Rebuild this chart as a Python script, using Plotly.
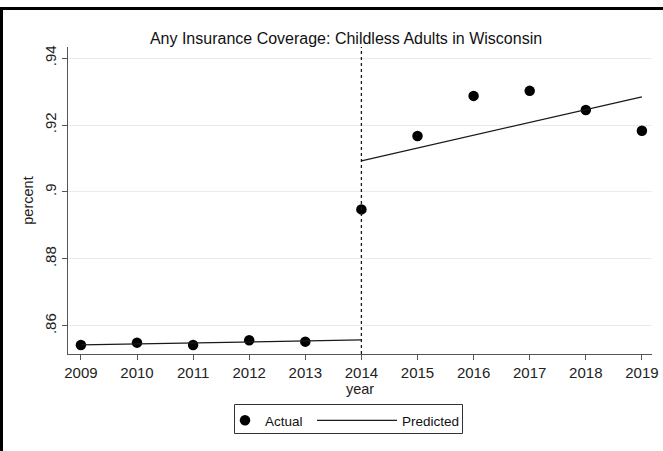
import plotly.graph_objects as go

# Survey years and the share of childless adults with any insurance coverage
years = [2009, 2010, 2011, 2012, 2013, 2014, 2015, 2016, 2017, 2018, 2019]
actual = [0.8543, 0.8550, 0.8543, 0.8557, 0.8553, 0.8948, 0.9167, 0.9287, 0.9302, 0.9245, 0.9183]

# Fitted trend before and after the 2014 policy change (segment endpoints)
pre_years = [2009, 2014]
pre_pred = [0.8543, 0.8558]
post_years = [2014, 2019]
post_pred = [0.9093, 0.9284]

cutoff_year = 2014

y_ticks = [0.86, 0.88, 0.90, 0.92, 0.94]
y_tick_text = [".86", ".88", ".9", ".92", ".94"]

FONT = "Liberation Sans, Arial, Helvetica, sans-serif"

# plot-area geometry in pixels (used for placing paper-referenced items)
W, H = 663, 451
L, R, T, B = 68, 652, 47, 354
pw, ph = R - L, B - T


def px_x(px):
    return (px - L) / pw


def px_y(py):
    return (B - py) / ph


fig = go.Figure()

fig.add_trace(go.Scatter(
    x=years, y=actual, mode="markers", name="Actual",
    marker=dict(color="black", size=10.5, symbol="circle"),
    legend="legend",
))

fig.add_trace(go.Scatter(
    x=pre_years + [None] + post_years,
    y=pre_pred + [None] + post_pred,
    mode="lines", name="Predicted",
    line=dict(color="#1a1a1a", width=1.3),
    connectgaps=False,
    legend="legend2",
))

# vertical marker at the policy change
fig.add_shape(type="line", xref="x", yref="paper",
              x0=cutoff_year, x1=cutoff_year, y0=0, y1=1,
              line=dict(color="#1a1a1a", width=1.3, dash="3px,3px"))

# legend frame holding both legend entries
fig.add_shape(type="rect", xref="paper", yref="paper",
              x0=px_x(234.5), x1=px_x(462.5), y0=px_y(433.5), y1=px_y(404.5),
              line=dict(color="#333333", width=1), layer="above")

# outer frame around the figure
fig.add_shape(type="rect", xref="paper", yref="paper",
              x0=px_x(1.5), x1=px_x(672), y0=px_y(470), y1=px_y(8.5),
              line=dict(color="black", width=3), layer="above")

legend_font = dict(family=FONT, size=13.5, color="#111111")

fig.update_layout(
    width=W, height=H,
    margin=dict(l=L, r=W - R, t=T, b=H - B, pad=0, autoexpand=False),
    paper_bgcolor="white", plot_bgcolor="white",
    font=dict(family=FONT, color="#222222", size=14),
    title=dict(text="Any Insurance Coverage: Childless Adults in Wisconsin",
               x=346 / W, xanchor="center",
               y=1 - 38 / H, yanchor="middle",
               font=dict(family=FONT, size=16, color="#111111")),
    showlegend=True,
    legend=dict(orientation="h", x=px_x(225), xanchor="left",
                y=px_y(405), yanchor="top", borderwidth=0,
                bgcolor="rgba(0,0,0,0)", itemwidth=30, font=legend_font),
    legend2=dict(orientation="h", x=px_x(312), xanchor="left",
                 y=px_y(405), yanchor="top", borderwidth=0,
                 bgcolor="rgba(0,0,0,0)", itemwidth=80, font=legend_font),
)

fig.update_xaxes(
    automargin=False,
    range=[2008.77, 2019.18],
    tickmode="array", tickvals=years,
    ticks="outside", ticklen=5, tickcolor="#555555",
    showline=True, linecolor="#555555", linewidth=1,
    showgrid=False, zeroline=False,
    tickfont=dict(family=FONT, size=15, color="#222222"),
    title=dict(text="year", standoff=1,
               font=dict(family=FONT, size=14.5, color="#222222")),
)

fig.update_yaxes(
    automargin=False,
    range=[0.86 - 28 / 66.7 * 0.02, 0.94 + 11 / 66.7 * 0.02],
    tickmode="array", tickvals=y_ticks, ticktext=y_tick_text,
    tickangle=-90,
    ticks="outside", ticklen=5, tickcolor="#555555",
    showline=True, linecolor="#555555", linewidth=1,
    showgrid=True, gridcolor="#ebebeb", gridwidth=1,
    zeroline=False,
    tickfont=dict(family=FONT, size=15, color="#222222"),
    title=dict(text="percent", standoff=4,
               font=dict(family=FONT, size=14.5, color="#222222")),
)

fig.write_html("out.html")
